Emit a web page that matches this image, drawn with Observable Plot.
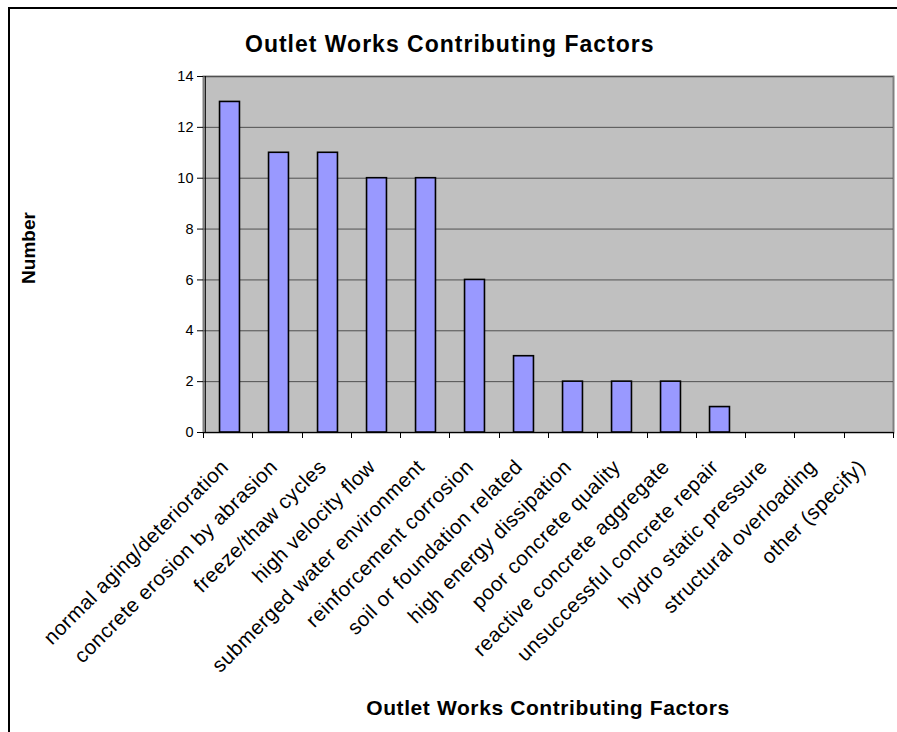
<!DOCTYPE html>
<html>
<head>
<meta charset="utf-8">
<script src="https://cdn.jsdelivr.net/npm/d3@7"></script>
<script src="https://cdn.jsdelivr.net/npm/@observablehq/plot@0.6"></script>
<style>
  html, body { margin: 0; padding: 0; background: #fff; }
  #wrap { position: relative; width: 897px; height: 732px; overflow: hidden; }
  #border { position: absolute; left: 8px; top: 7px; width: 1000px; height: 1000px; border: 2px solid #000; box-sizing: border-box; }
  #chart { position: absolute; left: 0; top: 0; }
  svg { font-family: "Liberation Sans", Arial, sans-serif; }
</style>
</head>
<body>
<div id="wrap"><div id="border"></div><div id="chart"></div></div>
<script>
const categories = [
  "normal aging/deterioration",
  "concrete erosion by abrasion",
  "freeze/thaw cycles",
  "high velocity flow",
  "submerged water environment",
  "reinforcement corrosion",
  "soil or foundation related",
  "high energy dissipation",
  "poor concrete quality",
  "reactive concrete aggregate",
  "unsuccessful concrete repair",
  "hydro static pressure",
  "structural overloading",
  "other (specify)"
];
const values = [13, 11, 11, 10, 10, 6, 3, 2, 2, 2, 1, 0, 0, 0];
const yTicks = [0, 2, 4, 6, 8, 10, 12, 14];
const title = "Outlet Works Contributing Factors";
const yTitle = "Number";
const xTitle = "Outlet Works Contributing Factors";

const data = categories.map((c, i) => ({cat: c, value: values[i]}));

const W = 897, H = 732, mL = 203, mR = 4, mT = 76, mB = 300;
const band = (W - mL - mR) / categories.length;
const inset = band * 0.295;

// boundary tick marks below the x axis
function boundaryTicks(index, scales, values, dim) {
  const g = d3.create("svg:g");
  const x0 = dim.marginLeft;
  const y0 = dim.height - dim.marginBottom;
  for (let i = 0; i <= categories.length; i++) {
    const x = Math.round(x0 + i * band) + 0.5;
    g.append("line").attr("x1", x).attr("x2", x).attr("y1", y0).attr("y2", y0 + 6)
      .attr("stroke", "#000").attr("stroke-width", 1);
  }
  return g.node();
}

const chart = Plot.plot({
  width: W,
  height: H,
  marginLeft: mL,
  marginRight: mR,
  marginTop: mT,
  marginBottom: mB,
  style: {fontFamily: "'Liberation Sans', Arial, sans-serif", background: "transparent", overflow: "visible"},
  x: {domain: categories, padding: 0, label: null},
  y: {domain: [0, 14], label: null},
  marks: [
    Plot.frame({fill: "#c0c0c0", stroke: "#808080", strokeWidth: 2}),
    Plot.gridY(yTicks, {stroke: "#505050", strokeOpacity: 1, strokeWidth: 1}),
    Plot.barY(data.filter(d => d.value > 0), {x: "cat", y: "value", fill: "#9999ff", stroke: "#000", strokeWidth: 1.6, insetLeft: inset, insetRight: inset}),
    Plot.ruleY([0], {stroke: "#000", strokeWidth: 1}),
    Plot.ruleX([0], {x: () => categories[0], dx: -band / 2, stroke: "#000", strokeWidth: 1}),
    boundaryTicks,
    Plot.axisY(yTicks, {tickSize: 6, tickPadding: 4, fontSize: 14.5, tickFormat: d => String(d), stroke: "#000", fill: "#000"}),
    Plot.axisX({tickSize: 0, tickPadding: 31, dx: -5, tickRotate: -45, fontSize: 20.5, fill: "#000"})
  ]
});

const svg = d3.select(chart);
svg.selectAll("[aria-label='x-axis tick label'] text").style("letter-spacing", "0.5px");
svg.append("text").attr("x", 245).attr("y", 52).attr("text-anchor", "start")
  .attr("font-size", 23).attr("font-weight", "bold").style("letter-spacing", "1px")
  .attr("fill", "#000").text(title);
svg.append("text").attr("transform", "translate(35,248) rotate(-90)").attr("text-anchor", "middle")
  .attr("font-size", 19).attr("font-weight", "bold").attr("fill", "#000").text(yTitle);
svg.append("text").attr("x", 548).attr("y", 715).attr("text-anchor", "middle")
  .attr("font-size", 21).attr("font-weight", "bold").style("letter-spacing", "0.6px")
  .attr("fill", "#000").text(xTitle);

document.getElementById("chart").appendChild(chart);
</script>
</body>
</html>
